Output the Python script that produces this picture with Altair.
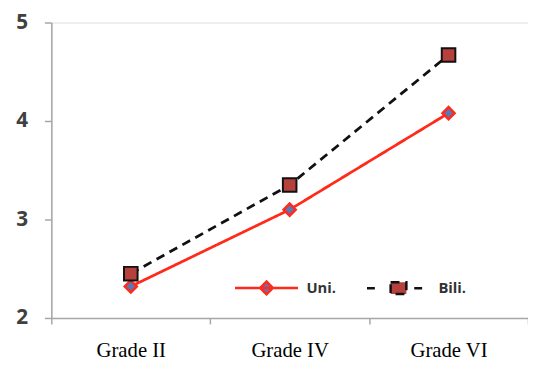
import altair as alt
import pandas as pd

grades = ["Grade II", "Grade IV", "Grade VI"]
series_names = ["Uni.", "Bili."]
uni_values = [2.32, 3.10, 4.08]
bili_values = [2.45, 3.35, 4.67]
y_ticks = [2, 3, 4, 5]

rows = []
for g, u, b in zip(grades, uni_values, bili_values):
    rows.append({"grade": g, "series": "Uni.", "value": u})
    rows.append({"grade": g, "series": "Bili.", "value": b})
df = pd.DataFrame(rows)

RED = "#ff2a1a"
BLACK = "#111111"
BLUE = "#5a78b8"
DARKRED = "#b5403c"

x_enc = alt.X("grade:N", sort=grades, bandPosition=0.5,
              scale=alt.Scale(type="band", paddingInner=0, paddingOuter=0),
              axis=alt.Axis(title=None, labelAngle=0, tickBand="extent",
                            labelFont="Liberation Serif", labelFontSize=21,
                            labelColor="#000000", labelPadding=16, tickSize=6,
                            domainColor="#a6a6a6", tickColor="#a6a6a6",
                            domainWidth=1.5, tickWidth=1.5, grid=False))
y_enc = alt.Y("value:Q", scale=alt.Scale(domain=[2, 5], nice=False, zero=False),
              axis=alt.Axis(title=None, values=y_ticks, format="d",
                            labelFont="Open Sans", labelFontWeight="bold",
                            labelFontSize=21, labelColor="#404040",
                            labelPadding=17, tickSize=7,
                            domainColor="#a6a6a6", tickColor="#a6a6a6",
                            domainWidth=1.5, tickWidth=1.5, grid=False))

base = alt.Chart(df)

path_uni = "M-3.2,0H3.2M0,-0.65L0.65,0L0,0.65L-0.65,0Z"
path_bili = "M-3.2,0H-2.4M1.6,0H2.4M-0.8,-0.6H0.8V0.6H-0.8Z"


def pick(a, b):
    return alt.ExprRef(expr="datum.value === 'Uni.' ? '" + a + "' : '" + b + "'")


leg = alt.Legend(
    title=None, orient="none", legendX=207, legendY=258, direction="horizontal",
    symbolSize=400, symbolStrokeWidth=2.5, symbolOpacity=1,
    symbolType=pick(path_uni, path_bili),
    symbolFillColor=pick(BLUE, DARKRED),
    symbolStrokeColor=pick(RED, BLACK),
    labelFont="Open Sans", labelFontWeight="bold", labelFontSize=15,
    labelColor="#333333", labelOffset=29, columnPadding=25,
)

lines = base.mark_line(strokeWidth=2.8).encode(
    x=x_enc, y=y_enc,
    color=alt.Color("series:N", scale=alt.Scale(domain=series_names, range=[RED, BLACK]), legend=leg),
    strokeDash=alt.StrokeDash("series:N", scale=alt.Scale(domain=series_names, range=[[1, 0], [9, 6]]), legend=None),
)

uni_pts = base.transform_filter("datum.series == 'Uni.'").mark_point(
    shape="diamond", filled=True, size=150, fill=BLUE, stroke=RED, strokeWidth=2.5, opacity=1
).encode(x=x_enc, y=y_enc)

bili_pts = base.transform_filter("datum.series == 'Bili.'").mark_square(
    size=190, fill=DARKRED, stroke=BLACK, strokeWidth=2, opacity=1
).encode(x=x_enc, y=y_enc)

chart = alt.layer(lines, uni_pts, bili_pts).properties(
    width=484, height=300,
    autosize=alt.AutoSizeParams(type="none"),
    padding={"left": 44, "top": 12, "right": 0, "bottom": 45},
).configure_view(stroke=None).configure(background="white")

chart.save("out.html", embed_options={"renderer": "svg", "actions": False})
